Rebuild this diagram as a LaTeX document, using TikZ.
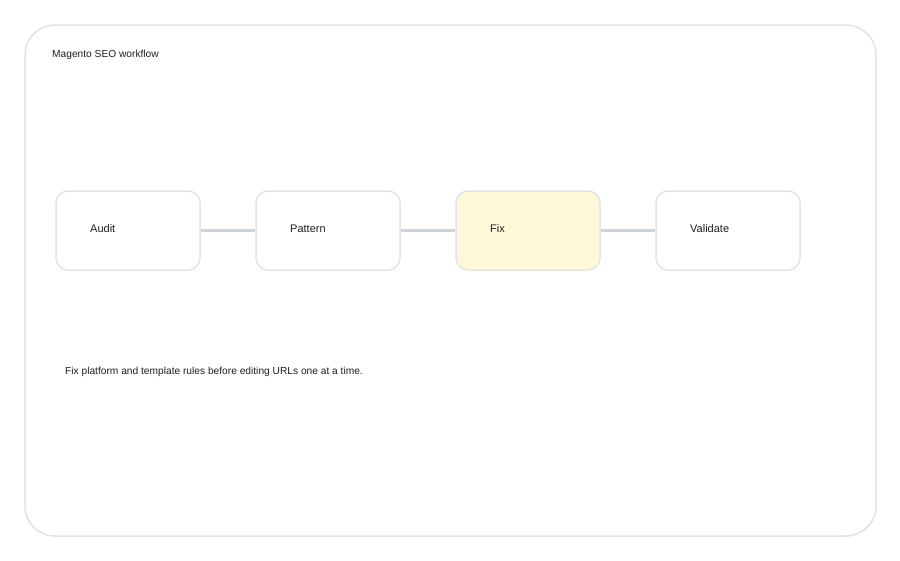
\documentclass[tikz,border=0pt]{standalone}
\usepackage{fontspec}
\setmainfont{Liberation Sans}
\definecolor{frame}{HTML}{E2E2E2}
\definecolor{boxline}{HTML}{E4E4E7}
\definecolor{link}{HTML}{CBD5DF}
\definecolor{fixfill}{HTML}{FEF8D8}
\definecolor{ink}{HTML}{1F1F1F}
\tikzset{
  stage/.style={draw=boxline, line width=1.5pt, rounded corners=12pt, fill=white, minimum width=144pt, minimum height=79pt, inner sep=0pt},
  hot/.style={fill=fixfill},
  lbl/.style={anchor=base west, inner sep=0pt, text=ink, font=\fontsize{11pt}{13pt}\selectfont},
  small/.style={anchor=base west, inner sep=0pt, text=ink, font=\fontsize{10.2pt}{12pt}\selectfont},
  conn/.style={draw=link, line width=3.5pt}
}
\begin{document}
\begin{tikzpicture}[x=1pt,y=-1pt]
\useasboundingbox (0,0) rectangle (900,560);
\fill[white] (0,0) rectangle (900,560);
\draw[frame, line width=1.5pt, rounded corners=30pt] (25,25) rectangle (876,536);
\node[small] (title) at (52,57.5) {Magento SEO workflow};
\node[stage] (audit) at (128,230.5) {};
\node[stage] (pattern) at (328,230.5) {};
\node[stage, hot] (fix) at (528,230.5) {};
\node[stage] (validate) at (728,230.5) {};
\draw[conn] (audit.east) -- (pattern.west);
\draw[conn] (pattern.east) -- (fix.west);
\draw[conn] (fix.east) -- (validate.west);
\node[lbl] (laudit) at (90,232) {Audit};
\node[lbl] (lpattern) at (290,232) {Pattern};
\node[lbl] (lfix) at (490,232) {Fix};
\node[lbl] (lvalidate) at (690,232) {Validate};
\node[small] (caption) at (65,374.5) {Fix platform and template rules before editing URLs one at a time.};
\end{tikzpicture}
\end{document}
